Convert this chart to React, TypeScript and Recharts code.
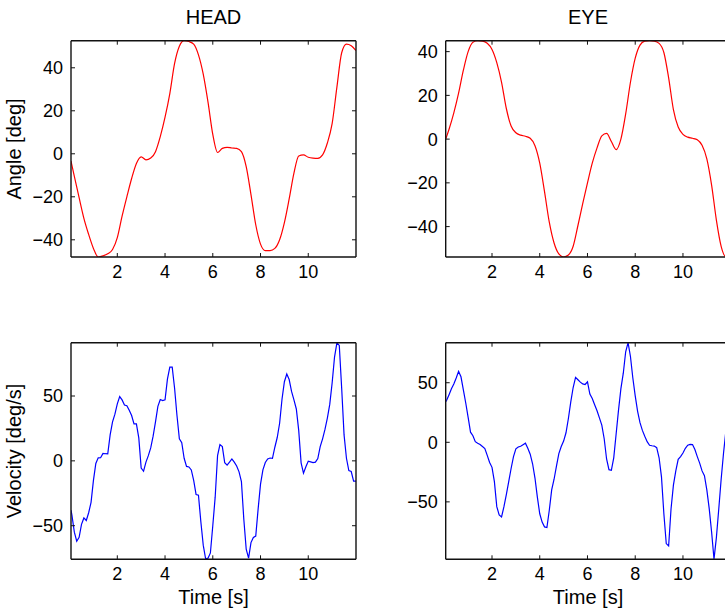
import React from "react";
import { LineChart, Line, XAxis, YAxis } from "recharts";

// ── Data ──────────────────────────────
const angleTime = [
  0.06, 0.2, 0.4, 0.6, 0.8, 1, 1.2, 1.4, 1.6, 1.8,
  2, 2.2, 2.4, 2.6, 2.8, 3, 3.2, 3.4, 3.6, 3.8,
  4, 4.2, 4.4, 4.6, 4.8, 5, 5.2, 5.4, 5.6, 5.8,
  6, 6.2, 6.4, 6.6, 6.8, 7, 7.2, 7.4, 7.6, 7.8,
  8, 8.2, 8.4, 8.6, 8.8, 9, 9.2, 9.4, 9.6, 9.8,
  10, 10.2, 10.4, 10.6, 10.8, 11, 11.2, 11.4, 11.6, 11.8,
  12,
];

const headAngle = [
  -3.4, -10.5, -20.4, -30, -37.5, -44, -48, -47.5, -46.5, -44.5,
  -39, -29, -20, -11.5, -4.5, -1.4, -2.8, -2, 1, 8,
  17, 28, 42, 50, 52.6, 52.2, 51, 46, 37, 24,
  9, 0.6, 2.5, 3, 2.7, 2.5, 1, -6, -19, -33,
  -42, -45, -45, -44, -40, -32, -21, -9, -1, -0.5,
  -1.6, -2, -2.1, -0.5, 5, 14, 31, 47, 51, 50.3,
  48,
];

const eyeAngle = [
  0, 4.5, 12, 21, 31.5, 40, 44.3, 45, 44.8, 43.8,
  41, 35, 26, 14, 6, 2.9, 1.8, 1.3, 0.4, -3,
  -11, -24, -38, -47.5, -52.5, -53.9, -53, -49, -39.5, -29.5,
  -20, -11, -4, 1.5, 2.6, -1.1, -4.8, 0, 11.5, 26,
  37, 43, 44.8, 45, 44.8, 43.8, 39.6, 28, 13.5, 5.5,
  2.2, 0.9, 0.4, -0.3, -2.8, -9, -21, -37, -49, -53.8,
  -53,
];

const velocityTime = [
  0.06, 0.1, 0.2, 0.3, 0.4, 0.5, 0.6, 0.7, 0.8, 0.9,
  1, 1.1, 1.2, 1.3, 1.4, 1.5, 1.6, 1.7, 1.8, 1.9,
  2, 2.1, 2.2, 2.3, 2.4, 2.5, 2.6, 2.7, 2.8, 2.9,
  3, 3.1, 3.2, 3.3, 3.4, 3.5, 3.6, 3.7, 3.8, 3.9,
  4, 4.1, 4.2, 4.3, 4.4, 4.5, 4.6, 4.7, 4.8, 4.9,
  5, 5.1, 5.2, 5.3, 5.4, 5.5, 5.6, 5.7, 5.8, 5.9,
  6, 6.1, 6.2, 6.3, 6.4, 6.5, 6.6, 6.7, 6.8, 6.9,
  7, 7.1, 7.2, 7.3, 7.4, 7.5, 7.6, 7.7, 7.8, 7.9,
  8, 8.1, 8.2, 8.3, 8.4, 8.5, 8.6, 8.7, 8.8, 8.9,
  9, 9.1, 9.2, 9.3, 9.4, 9.5, 9.6, 9.7, 9.8, 9.9,
  10, 10.1, 10.2, 10.3, 10.4, 10.5, 10.6, 10.7, 10.8, 10.9,
  11, 11.1, 11.2, 11.3, 11.4, 11.5, 11.6, 11.7, 11.8, 11.9,
  12,
];

const headVelocity = [
  -38, -42, -55, -62, -59, -49, -44, -46, -40, -32,
  -15, -2, 2.3, 2.4, 5.7, 5.5, 5.4, 20, 30, 36,
  44, 49.5, 47, 43, 42.5, 39, 35, 28.5, 28.5, 17.7,
  -5.5, -8, -1, 4, 10, 19, 30, 42, 47.3, 46.5,
  47, 63, 72.3, 72.3, 56, 35, 17, 14, 2, -4.3,
  -4.7, -7, -15, -26, -26.5, -47, -65, -75.5, -75, -71,
  -50, -28, 4, 12.5, 11, -1.5, -3.3, -1, 1.5, -1,
  -4, -8.5, -16, -45, -68, -75, -63, -59, -58, -37,
  -18, -7, -1.3, 1.5, 2.2, 2, 10.5, 18, 29, 47.5,
  61, 67, 62.7, 53.5, 47, 40, 23.5, -1.5, -9.5, -4.5,
  -0.3, -0.8, -1.4, -1, 1.8, 11, 17, 24.2, 33, 43.5,
  60, 80, 91, 89, 56, 20, 2, -7.5, -8.2, -15.7,
  -15.7,
];

const eyeVelocity = [
  34, 35.3, 40, 45, 49, 54, 59.5, 55, 44, 33,
  21, 8.5, 5.5, 0.5, -0.8, -1.9, -3.5, -5.2, -11, -17,
  -21, -33, -54, -61, -62.7, -54, -44, -33, -22, -12,
  -5.5, -3.9, -3.3, -2, -0.7, -5, -10, -18, -30, -46,
  -60, -67, -71, -71.5, -57, -40, -31, -20, -9.5, -3.5,
  1, 8, 20, 34, 46, 54.5, 52.5, 50.5, 49, 48.5,
  50.8, 40.5, 36.8, 31.5, 26.5, 20.5, 14.5, 3, -14, -23,
  -23.5, -13, 7, 27, 45, 58, 76, 83.6, 72, 54,
  39, 26, 16.5, 10, 5, 0.5, -2.5, -2.9, -3.2, -4.5,
  -13, -29, -60, -85, -87, -56, -36, -24, -14.3, -12,
  -9, -5, -2.4, -1.7, -1.9, -6, -12, -17.5, -24, -28,
  -40, -55.7, -75.3, -98, -80, -56, -31, -9, 10, 25,
  38,
];

const timeTicks = [2, 4, 6, 8, 10];
const angleTicks = [-40, -20, 0, 20, 40];
const velocityTicks = [-50, 0, 50];
const timeDomain = [0.06, 12];

// ── Styling ──────────────────────────────
const FONT = '"Liberation Sans", Arial, Helvetica, sans-serif';
const TICK_GAP = 8;
const TICK_LEN = 4;
const INK = "#111";
const axisStyle = { stroke: INK, strokeWidth: 1.4 };

const fmt = (v: number) => String(v).replace("-", "\u2212");

// eslint-disable-next-line @typescript-eslint/no-explicit-any
function BottomTick({ x, y, payload }: any) {
  const axisY = y - TICK_GAP;
  return (
    <g>
      <line x1={x} x2={x} y1={axisY} y2={axisY - TICK_LEN} stroke={INK} strokeWidth={1} />
      <text x={x} y={y} dy="0.72em" textAnchor="middle" fontSize={18} fontFamily={FONT} fill="#000">
        {fmt(payload.value)}
      </text>
    </g>
  );
}

// eslint-disable-next-line @typescript-eslint/no-explicit-any
function LeftTick({ x, y, payload }: any) {
  const axisX = x + TICK_GAP;
  return (
    <g>
      <line x1={axisX} x2={axisX + TICK_LEN} y1={y} y2={y} stroke={INK} strokeWidth={1} />
      <text x={x} y={y} dy="0.36em" textAnchor="end" fontSize={18} fontFamily={FONT} fill="#000">
        {fmt(payload.value)}
      </text>
    </g>
  );
}

// eslint-disable-next-line @typescript-eslint/no-explicit-any
function TopTick({ x, y }: any) {
  return <line x1={x} x2={x} y1={y} y2={y + TICK_LEN} stroke={INK} strokeWidth={1} />;
}

// eslint-disable-next-line @typescript-eslint/no-explicit-any
function RightTick({ x, y }: any) {
  return <line x1={x} x2={x - TICK_LEN} y1={y} y2={y} stroke={INK} strokeWidth={1} />;
}

interface PanelProps {
  left: number;
  top: number;
  width: number;
  height: number;
  plotTop: number;
  plotRight: number;
  yWidth: number;
  xHeight: number;
  time: number[];
  values: number[];
  yDomain: number[];
  yTicks: number[];
  color: string;
  curve: "monotone" | "linear";
}

// top / right axes are 1px thick so Recharts still draws them (box + inward ticks)
function Panel(p: PanelProps) {
  const data = p.time.map((t, i) => ({ t, v: p.values[i] }));
  return (
    <div style={{ position: "absolute", left: p.left, top: p.top }}>
      <LineChart
        width={p.width}
        height={p.height}
        data={data}
        margin={{ top: p.plotTop - 1, right: p.plotRight - 1, bottom: 0, left: 0 }}
      >
        <XAxis
          dataKey="t"
          type="number"
          domain={timeDomain}
          ticks={timeTicks}
          interval={0}
          allowDataOverflow
          height={p.xHeight}
          tickSize={0}
          tickMargin={TICK_GAP}
          tickLine={false}
          axisLine={axisStyle}
          tick={<BottomTick />}
        />
        <XAxis
          xAxisId="top"
          dataKey="t"
          orientation="top"
          type="number"
          domain={timeDomain}
          ticks={timeTicks}
          interval={0}
          allowDataOverflow
          height={1}
          tickSize={0}
          tickMargin={0}
          tickLine={false}
          axisLine={axisStyle}
          tick={<TopTick />}
        />
        <YAxis
          type="number"
          domain={p.yDomain}
          ticks={p.yTicks}
          interval={0}
          allowDataOverflow
          width={p.yWidth}
          tickSize={0}
          tickMargin={TICK_GAP}
          tickLine={false}
          axisLine={axisStyle}
          tick={<LeftTick />}
        />
        <YAxis
          yAxisId="right"
          dataKey="v"
          orientation="right"
          type="number"
          domain={p.yDomain}
          ticks={p.yTicks}
          interval={0}
          allowDataOverflow
          width={1}
          tickSize={0}
          tickMargin={0}
          tickLine={false}
          axisLine={axisStyle}
          tick={<RightTick />}
        />
        <Line
          dataKey="v"
          type={p.curve}
          stroke={p.color}
          strokeWidth={1.2}
          dot={false}
          activeDot={false}
          isAnimationActive={false}
        />
      </LineChart>
    </div>
  );
}

export default function App() {
  const textStyle = { fontFamily: FONT, fontSize: 20, fill: "#000" };
  return (
    <div
      style={{
        position: "absolute",
        left: 0,
        top: 0,
        width: 725,
        height: 612,
        overflow: "hidden",
        background: "#fff",
      }}
    >
      <Panel
        left={0} top={0} width={362} height={300}
        plotTop={40.7} plotRight={6} yWidth={71} xHeight={43}
        time={angleTime} values={headAngle}
        yDomain={[-48, 52.6]} yTicks={angleTicks}
        color="#ff0000" curve="monotone"
      />
      <Panel
        left={362} top={0} width={375} height={300}
        plotTop={40.7} plotRight={6.3} yWidth={83.7} xHeight={43}
        time={angleTime} values={eyeAngle}
        yDomain={[-53.9, 45]} yTicks={angleTicks}
        color="#ff0000" curve="monotone"
      />
      <Panel
        left={0} top={300} width={362} height={312}
        plotTop={42.7} plotRight={6} yWidth={71} xHeight={52.7}
        time={velocityTime} values={headVelocity}
        yDomain={[-75.9, 91.1]} yTicks={velocityTicks}
        color="#0000ff" curve="linear"
      />
      <Panel
        left={362} top={300} width={375} height={312}
        plotTop={42.7} plotRight={6.3} yWidth={83.7} xHeight={52.7}
        time={velocityTime} values={eyeVelocity}
        yDomain={[-98.2, 83.6]} yTicks={velocityTicks}
        color="#0000ff" curve="linear"
      />
      <svg
        width={725}
        height={612}
        style={{ position: "absolute", left: 0, top: 0, pointerEvents: "none" }}
      >
        <text x={213.5} y={24} textAnchor="middle" {...textStyle}>HEAD</text>
        <text x={588} y={24} textAnchor="middle" {...textStyle}>EYE</text>
        <text x={21} y={149} textAnchor="middle" transform="rotate(-90 21 149)" {...textStyle}>
          Angle [deg]
        </text>
        <text x={21} y={451} textAnchor="middle" transform="rotate(-90 21 451)" {...textStyle}>
          Velocity [deg/s]
        </text>
        <text x={213.5} y={604} textAnchor="middle" {...textStyle}>Time [s]</text>
        <text x={588} y={604} textAnchor="middle" {...textStyle}>Time [s]</text>
      </svg>
    </div>
  );
}
